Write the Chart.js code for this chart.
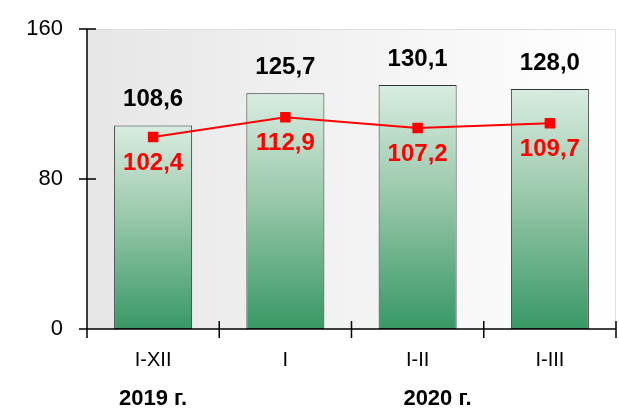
<!DOCTYPE html>
<html>
<head>
<meta charset="utf-8">
<script src="https://cdn.jsdelivr.net/npm/chart.js@4/dist/chart.umd.min.js"></script>
<style>
  html, body { margin: 0; padding: 0; background: #fff; }
  #wrap { width: 619px; height: 412px; }
</style>
</head>
<body>
<div id="wrap"><canvas id="chart" width="619" height="412"></canvas></div>
<script>
// periods and yearly groups
var periods = ["I-XII", "I", "I-II", "I-III"];
var years = ["2019 г.", "2020 г."];
var yearPos = [0, 2.15]; // where the year caption sits along the category axis
var barValues = [108.6, 125.7, 130.1, 128.0];
var lineValues = [102.4, 112.9, 107.2, 109.7];
var yTicks = [0, 80, 160];

function fmt(v) {
    return v.toFixed(1).replace(".", ",");
}

// gradient for every bar, from its top down to zero
function barGradient(ctx) {
    var chart = ctx.chart;
    if (!chart.chartArea || ctx.raw === undefined) return "#8cbf9f";
    var y = chart.scales.y;
    var top = y.getPixelForValue(ctx.raw);
    var bottom = y.getPixelForValue(0);
    var g = chart.ctx.createLinearGradient(0, top, 0, bottom);
    g.addColorStop(0, "#d9ece1");
    g.addColorStop(0.45, "#99c8aa");
    g.addColorStop(1, "#389866");
    return g;
}

// no extra room for tick labels, layout padding decides
function noPad(s) {
    s.paddingTop = 0;
    s.paddingBottom = 0;
    s.paddingLeft = 0;
    s.paddingRight = 0;
}

// plot background + axes with ticks crossing the lines
var frame = {
    id: "frame",
    beforeDraw(chart) {
        var a = chart.chartArea;
        var c = chart.ctx;
        c.save();
        var g = c.createLinearGradient(a.left, 0, a.right, 0);
        g.addColorStop(0, "#e6e6e6");
        g.addColorStop(1, "#ffffff");
        c.fillStyle = g;
        c.fillRect(a.left, a.top, a.right - a.left, a.bottom - a.top);
        c.strokeStyle = "#dddddd";
        c.lineWidth = 1;
        c.beginPath();
        c.moveTo(a.left, a.top + 0.5);
        c.lineTo(a.right - 0.5, a.top + 0.5);
        c.lineTo(a.right - 0.5, a.bottom);
        c.stroke();
        c.restore();
    },
    afterDatasetsDraw(chart) {
        var a = chart.chartArea;
        var c = chart.ctx;
        var x = chart.scales.x;
        var y = chart.scales.y;
        c.save();
        c.strokeStyle = "#000";
        c.lineWidth = 1.5;
        c.beginPath();
        c.moveTo(a.left, a.top);
        c.lineTo(a.left, a.bottom);
        c.lineTo(a.right, a.bottom);
        yTicks.forEach(function (t) {
            var py = y.getPixelForValue(t);
            c.moveTo(a.left - 8, py);
            c.lineTo(a.left + 9, py);
        });
        for (var i = 0; i <= periods.length; i++) {
            var px = x.getPixelForValue(i - 0.5);
            c.moveTo(px, a.bottom - 8);
            c.lineTo(px, a.bottom + 9);
        }
        c.stroke();

        // value labels
        c.font = "bold 24px 'Liberation Sans', Arial, sans-serif";
        c.textAlign = "center";
        c.textBaseline = "middle";
        chart.getDatasetMeta(1).data.forEach(function (el, i) {
            c.fillStyle = "#000";
            c.fillText(fmt(barValues[i]), el.x, el.y - 26);
        });
        chart.getDatasetMeta(0).data.forEach(function (el, i) {
            c.fillStyle = "#ff0000";
            c.fillText(fmt(lineValues[i]), el.x, el.y + 26);
        });

        // year captions
        c.fillStyle = "#000";
        c.font = "bold 22px 'Liberation Sans', Arial, sans-serif";
        years.forEach(function (t, i) {
            c.fillText(t, x.getPixelForValue(yearPos[i]), 399);
        });
        c.restore();
    }
};

new Chart("chart", {
    type: "bar",
    data: {
        labels: periods,
        datasets: [
            {
                type: "line",
                data: lineValues,
                borderColor: "#ff0000",
                backgroundColor: "#ff0000",
                borderWidth: 2,
                pointStyle: "rect",
                pointRadius: 6,
                pointHoverRadius: 6,
                order: 0,
            },
            {
                data: barValues,
                backgroundColor: barGradient,
                borderColor: "#333333",
                borderWidth: 1,
                borderSkipped: false,
                categoryPercentage: 1,
                barPercentage: 0.59,
                order: 1,
            },
        ],
    },
    options: {
        responsive: false,
        animation: false,
        layout: { autoPadding: false, padding: { top: 29, right: 3, left: 0, bottom: 0 } },
        plugins: {
            legend: { display: false },
            tooltip: { enabled: false },
        },
        scales: {
            x: {
                grid: { display: false, drawTicks: false },
                border: { display: false },
                ticks: {
                    color: "#000",
                    padding: 19,
                    font: { family: "'Liberation Sans', Arial, sans-serif", size: 20 },
                },
                afterFit: function (s) { s.height = 83; noPad(s); },
            },
            y: {
                min: 0,
                max: 160,
                afterBuildTicks: function (s) {
                    s.ticks = yTicks.map(function (v) { return { value: v }; });
                },
                grid: { display: false, drawTicks: false },
                border: { display: false },
                ticks: {
                    color: "#000",
                    padding: 24,
                    font: { family: "'Liberation Sans', Arial, sans-serif", size: 22 },
                },
                afterFit: function (s) { s.width = 87; noPad(s); },
            },
        },
    },
    plugins: [frame],
});
</script>
</body>
</html>
